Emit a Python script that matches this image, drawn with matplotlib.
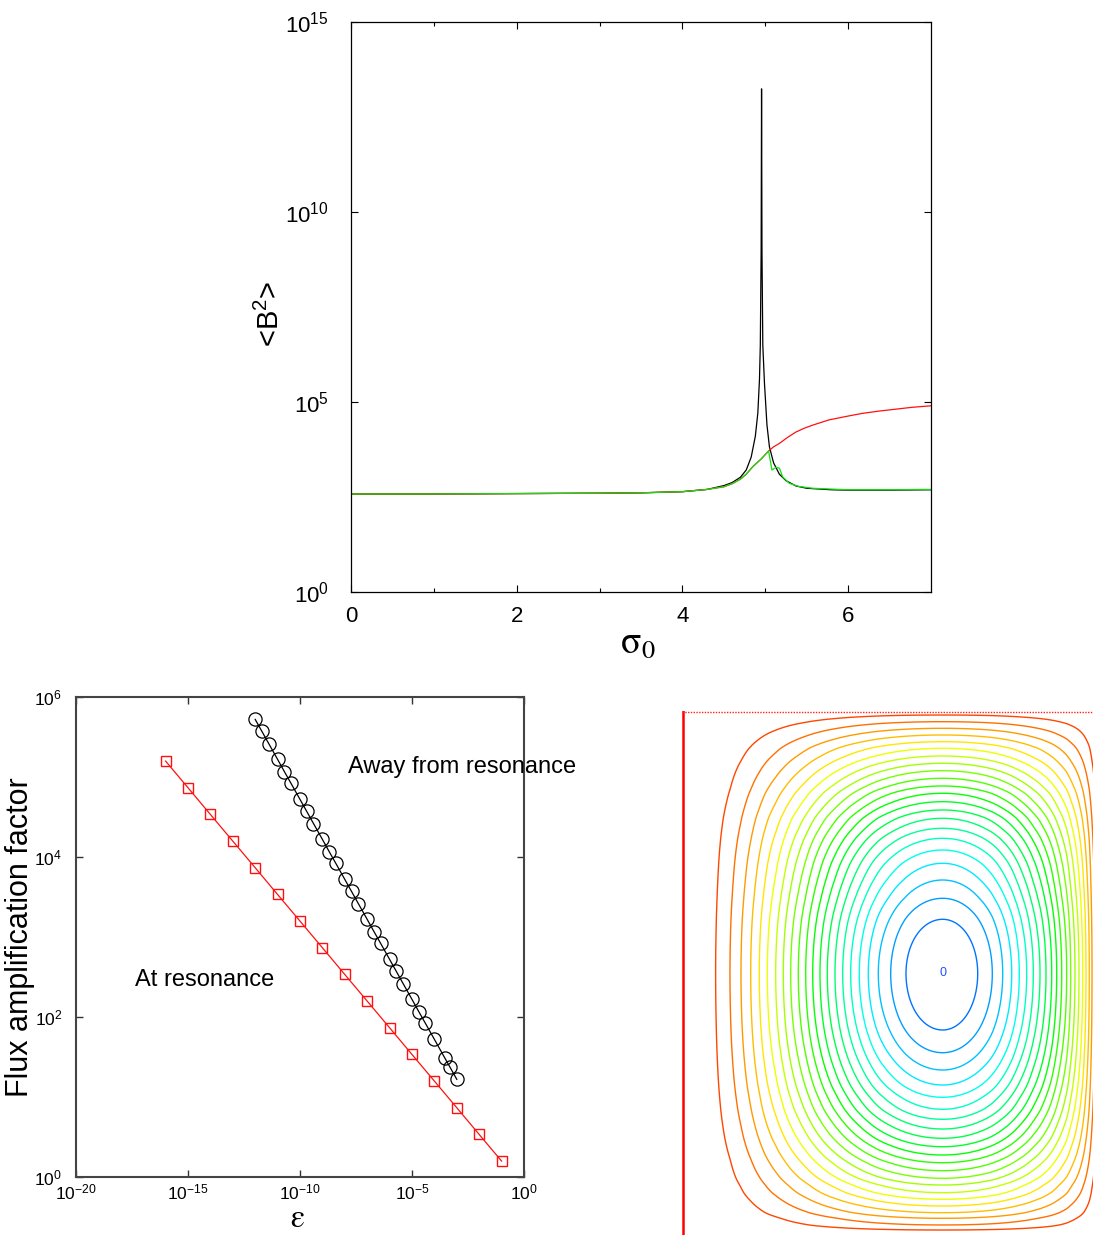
import matplotlib
matplotlib.use("Agg")
import matplotlib.pyplot as plt
import numpy as np
from matplotlib.ticker import FixedLocator, FixedFormatter, NullLocator

plt.rcParams['font.family'] = ['Liberation Sans Narrow', 'Liberation Sans', 'DejaVu Sans']
plt.rcParams['mathtext.fontset'] = 'stix'

# --- top panel: <B^2> vs sigma_0 (values read as log10) ---
sigma_black = [0, 1, 2, 3, 3.5, 4.0, 4.3, 4.5, 4.6, 4.7, 4.77, 4.83, 4.88, 4.91, 4.93, 4.94,
               4.95, 4.955, 4.96, 4.97, 4.99, 5.02, 5.05, 5.1, 5.17, 5.25, 5.37, 5.5, 5.8, 6.0, 6.5, 7.0]
logb2_black = [2.58, 2.58, 2.59, 2.60, 2.61, 2.64, 2.70, 2.80, 2.88, 3.02, 3.21, 3.55, 4.10, 4.71, 5.6, 6.5,
               9.0, 13.24, 9.0, 6.5, 5.5, 4.4, 3.82, 3.4, 3.1, 2.93, 2.79, 2.73, 2.69, 2.68, 2.68, 2.69]

sigma_green = [0, 1, 2, 3, 3.5, 4.0, 4.3, 4.5, 4.6, 4.7, 4.77, 4.85, 4.95, 5.04, 5.08, 5.13,
               5.17, 5.21, 5.29, 5.4, 5.57, 6.0, 6.5, 7.0]
logb2_green = [2.58, 2.58, 2.59, 2.60, 2.61, 2.64, 2.70, 2.77, 2.85, 2.97, 3.10, 3.30, 3.50, 3.71, 3.21, 3.28,
               3.26, 3.03, 2.86, 2.78, 2.73, 2.69, 2.69, 2.70]

sigma_red = [0, 1, 2, 3, 3.5, 4.0, 4.3, 4.5, 4.6, 4.7, 4.77, 4.85, 4.95, 5.04, 5.1, 5.17,
             5.22, 5.27, 5.32, 5.37, 5.47, 5.57, 5.67, 5.77, 6.0, 6.17, 6.37, 6.57, 6.77, 7.0]
logb2_red = [2.58, 2.58, 2.59, 2.60, 2.61, 2.64, 2.70, 2.77, 2.85, 2.97, 3.10, 3.30, 3.50, 3.71, 3.82, 3.91,
             3.99, 4.07, 4.14, 4.21, 4.31, 4.39, 4.46, 4.53, 4.63, 4.70, 4.76, 4.81, 4.86, 4.90]

top_yticks = [1e0, 1e5, 1e10, 1e15]
top_ylabels = ["0", "5", "10", "15"]

# --- bottom-left panel: flux amplification vs epsilon ---
eps_res = [1e-16, 1e-15, 1e-14, 1e-13, 1e-12, 1e-11, 1e-10, 1e-9, 1e-8, 1e-7,
           1e-6, 1e-5, 1e-4, 1e-3, 1e-2, 1e-1]
amp_res = [1.58e5, 7.34e4, 3.4e4, 1.58e4, 7.34e3, 3.4e3, 1.58e3, 734, 340, 158,
           73.4, 34, 15.8, 7.34, 3.4, 1.58]

eps_away = [1e-12, 2e-12, 4e-12, 1e-11, 2e-11, 4e-11, 1e-10, 2e-10, 4e-10, 1e-9, 2e-9, 4e-9,
            1e-8, 2e-8, 4e-8, 1e-7, 2e-7, 4e-7, 1e-6, 2e-6, 4e-6, 1e-5, 2e-5, 4e-5,
            1e-4, 3e-4, 5e-4, 1e-3]
amp_away = [5.25e5, 3.71e5, 2.62e5, 1.66e5, 1.17e5, 8.3e4, 5.25e4, 3.71e4, 2.62e4, 1.66e4, 1.17e4, 8.3e3,
            5.25e3, 3.71e3, 2.62e3, 1.66e3, 1.17e3, 830, 525, 371, 262, 166, 117, 83,
            52.5, 30.3, 23.5, 16.6]

bl_xticks = [1e-20, 1e-15, 1e-10, 1e-5, 1e0]
bl_xlabels = ["-20", "-15", "-10", "-5", "0"]
bl_yticks = [1e0, 1e2, 1e4, 1e6]
bl_ylabels = ["0", "2", "4", "6"]

# --- bottom-right panel: contour crossings (px from the walls) ---
# positions where each contour level k=1..22 crosses the centre row / column
cross_x_left = [33.7, 48, 59, 68.7, 77.3, 85.3, 93.7, 101.3, 108.7, 116.3, 123.7, 130.7,
                138, 145.3, 153, 160.7, 168.7, 177.3, 186.3, 196.3, 208.7, 224]
cross_x_right = [295.7, 310.3, 320.7, 329.7, 337.3, 344.7, 351.3, 358, 364, 369.7, 374.7,
                 379.7, 384.7, 388.7, 393, 397, 400.7, 404, 407.3, 410, 413, 416]
cross_y_top = [4, 10.7, 17.3, 24, 30.7, 37.3, 45, 52.3, 59.7, 67.3, 75, 82.3, 90.7, 99,
               107.3, 117.3, 127.3, 139, 152.3, 169, 187.3, 208.3]
cross_y_bottom = [319, 341.7, 359, 374, 386.3, 398.3, 408.3, 418, 427.3, 435.7, 444, 451.7,
                  459.7, 467.3, 474, 481.7, 488.3, 495, 501.7, 507.3, 514, 519]
centre_x, centre_y = 260.7, 262.5
wall_right, wall_bottom = 419, 526
n_levels = 22


def pow_labels(exps):
    return [r"$\mathregular{10^{%s}}$" % e for e in exps]


def profile(grid, left, centre, right, wall, levels):
    # smooth 1-D profile through the crossings, quadratic at the maximum
    pts = np.concatenate([[0], left, [centre], right, [wall]])
    u = np.sqrt(1 - levels)
    u_pts = np.concatenate([[1], u, [0], u[::-1], [1]])
    return 1 - np.interp(grid, pts, u_pts) ** 2


fig = plt.figure(figsize=(10.93, 12.35), dpi=100)
W, H = 1093, 1235
sans = ["Liberation Sans", "DejaVu Sans"]

# ---------------- top panel ----------------
ax1 = fig.add_axes([351 / W, 1 - 592 / H, 580 / W, 570 / H])
ax1.plot(sigma_black, 10 ** np.array(logb2_black), color="black", lw=0.9)
ax1.plot(sigma_red, 10 ** np.array(logb2_red), color="#ff1010", lw=0.9)
ax1.plot(sigma_green, 10 ** np.array(logb2_green), color="#10e010", lw=0.9)
ax1.set_yscale("log")
ax1.set_xlim(0, 7)
ax1.set_ylim(1, 1e15)
ax1.yaxis.set_major_locator(FixedLocator(top_yticks))
ax1.yaxis.set_major_formatter(FixedFormatter(pow_labels(top_ylabels)))
ax1.yaxis.set_minor_locator(NullLocator())
ax1.set_xticks([0, 2, 4, 6])
ax1.set_xticks([1, 3, 5], minor=True)
ax1.tick_params(which="both", direction="in", top=True, right=True, labelsize=16, width=0.8)
ax1.tick_params(axis="y", which="major", length=5, pad=16)
ax1.tick_params(axis="x", which="major", length=5, pad=10)
ax1.tick_params(which="minor", length=3)
for s in ax1.spines.values():
    s.set_linewidth(0.9)
fig.text(270 / W, 1 - 314 / H, r"<B$\mathregular{^2}$>", rotation=90, ha="center", va="center",
         fontsize=21, family=sans)
fig.text(638 / W, 1 - 643 / H, r"$\mathrm{\sigma}_0$", ha="center", va="center", fontsize=27)

# ---------------- bottom-left panel ----------------
ax2 = fig.add_axes([76 / W, 1 - 1177 / H, 448 / W, 480 / H])
ax2.plot(eps_res, amp_res, color="#ff1010", lw=0.9, marker="s", ms=7, mfc="none", mec="#ff1010", mew=1.0)
ax2.plot(eps_away, amp_away, color="black", lw=0.9, marker="o", ms=9.5, mfc="none", mec="black", mew=0.9)
ax2.set_xscale("log")
ax2.set_yscale("log")
ax2.set_xlim(1e-20, 1)
ax2.set_ylim(1, 1e6)
ax2.xaxis.set_major_locator(FixedLocator(bl_xticks))
ax2.xaxis.set_major_formatter(FixedFormatter(pow_labels(bl_xlabels)))
ax2.yaxis.set_major_locator(FixedLocator(bl_yticks))
ax2.yaxis.set_major_formatter(FixedFormatter(pow_labels(bl_ylabels)))
ax2.xaxis.set_minor_locator(NullLocator())
ax2.yaxis.set_minor_locator(NullLocator())
ax2.tick_params(direction="in", top=True, right=True, labelsize=12.5, length=5, width=1.0, color="#333333")
ax2.tick_params(axis="y", pad=10)
ax2.tick_params(axis="x", pad=4)
for s in ax2.spines.values():
    s.set_linewidth(1.5)
    s.set_color("#444444")
ax2.text(0.862, 0.854, "Away from resonance", transform=ax2.transAxes, ha="center", va="center", fontsize=17)
ax2.text(0.288, 0.41, "At resonance", transform=ax2.transAxes, ha="center", va="center", fontsize=17)
fig.text(20 / W, 1 - 937 / H, "Flux amplification factor", rotation=90, ha="center", va="center",
         fontsize=22, family=sans)
fig.text(297 / W, 1 - 1219 / H, r"$\mathrm{\varepsilon}$", ha="center", va="center", fontsize=23)

# ---------------- bottom-right panel ----------------
ax3 = fig.add_axes([682 / W, 0, (W - 682) / W, (H - 711) / H])
levels = (np.arange(n_levels) + 1) / (n_levels + 1)
xg = np.linspace(0, wall_right, 800)
yg = np.linspace(0, wall_bottom, 900)
fx = profile(xg, cross_x_left, centre_x, cross_x_right, wall_right, levels)
gy = profile(yg, cross_y_top, centre_y, cross_y_bottom, wall_bottom, levels)
psi = np.outer(gy, fx)
colors = plt.cm.hsv(np.linspace(0.05, 0.60, n_levels))
ax3.contour(xg, yg, psi, levels=levels, colors=colors, linewidths=1.0)
ax3.axvline(1, color="#ff0000", lw=1.8)
ax3.axhline(0.5, color="#ff2020", lw=1.0, ls=(0, (1, 1)))
ax3.text(centre_x, centre_y, "0", color="#2050ff", fontsize=9, ha="center", va="center", family=sans)
ax3.set_xlim(0, W - 682)
ax3.set_ylim(H - 711, 0)
ax3.axis("off")

fig.savefig("out.png", dpi=100)
